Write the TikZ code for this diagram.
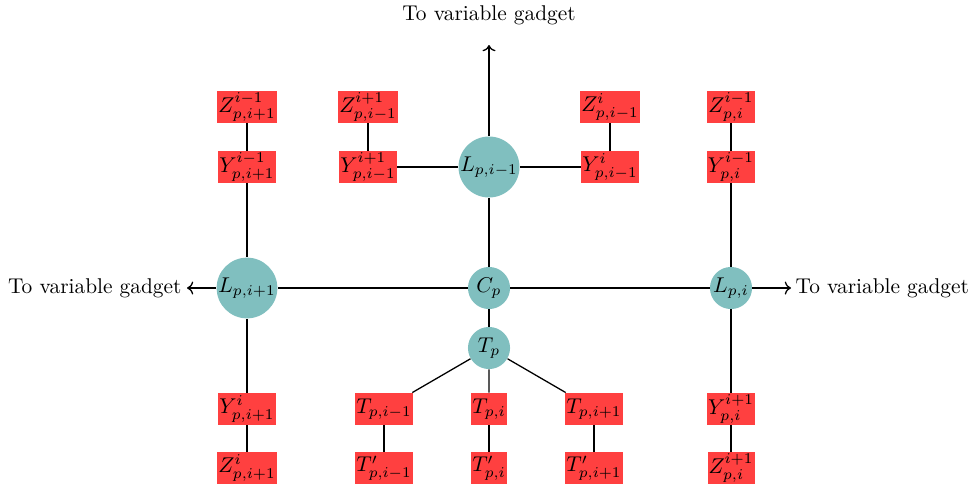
\documentclass[tikz,border=0pt]{standalone}
\usetikzlibrary{arrows.meta}
\begin{document}
\begin{tikzpicture}[x=0.468pt,y=-0.468pt,
  rbox/.style={fill=red!75,inner sep=0.5pt,minimum height=15pt},
  bigc/.style={circle,fill=teal!50,inner sep=0pt,minimum size=28pt},
  smallc/.style={circle,fill=teal!50,inner sep=0pt,minimum size=19.7pt},
  lnk/.style={semithick},
  arr/.style={semithick,->},
  lbl/.style={inner sep=1pt}]
\useasboundingbox (0,0) rectangle (974,489);
% circles
\node[bigc] (Lim) at (489,167) {$L_{p,i-1}$};
\node[smallc] (C) at (489,288) {$C_p$};
\node[smallc] (T) at (489,348) {$T_p$};
\node[bigc] (Lip) at (247,288) {$L_{p,i+1}$};
\node[smallc] (Li) at (731,288) {$L_{p,i}$};
% top boxes
\node[rbox] (Z1) at (247,107) {$Z^{i-1}_{p,i+1}$};
\node[rbox] (Y1) at (247,167) {$Y^{i-1}_{p,i+1}$};
\node[rbox] (Z2) at (368,107) {$Z^{i+1}_{p,i-1}$};
\node[rbox] (Y2) at (368,167) {$Y^{i+1}_{p,i-1}$};
\node[rbox] (Z3) at (610,107) {$Z^{i}_{p,i-1}$};
\node[rbox] (Y3) at (610,167) {$Y^{i}_{p,i-1}$};
\node[rbox] (Z4) at (731,107) {$Z^{i-1}_{p,i}$};
\node[rbox] (Y4) at (731,167) {$Y^{i-1}_{p,i}$};
% bottom boxes
\node[rbox] (Y5) at (247,409) {$Y^{i}_{p,i+1}$};
\node[rbox] (Z5) at (247,468) {$Z^{i}_{p,i+1}$};
\node[rbox] (Ta) at (384,409) {$T_{p,i-1}$};
\node[rbox] (Tpa) at (384,468) {$T'_{p,i-1}$};
\node[rbox] (Tb) at (489,409) {$T_{p,i}$};
\node[rbox] (Tpb) at (489,468) {$T'_{p,i}$};
\node[rbox] (Tc) at (594,409) {$T_{p,i+1}$};
\node[rbox] (Tpc) at (594,468) {$T'_{p,i+1}$};
\node[rbox] (Y6) at (731,409) {$Y^{i+1}_{p,i}$};
\node[rbox] (Z6) at (731,468) {$Z^{i+1}_{p,i}$};
% labels
\node[lbl] (top) at (489,15) {To variable gadget};
\node[lbl,anchor=east] (left) at (184,288) {To variable gadget};
\node[lbl,anchor=west] (right) at (793,288) {To variable gadget};
\coordinate (topa) at (489,45);
\coordinate (lefta) at (187,288);
\coordinate (righta) at (791,288);
% links
\draw[lnk] (Z1) -- (Y1) (Y1) -- (Lip) (Lip) -- (Y5) (Y5) -- (Z5);
\draw[lnk] (Z2) -- (Y2) (Y2) -- (Lim) (Lim) -- (Y3) (Y3) -- (Z3);
\draw[lnk] (Z4) -- (Y4) (Y4) -- (Li) (Li) -- (Y6) (Y6) -- (Z6);
\draw[lnk] (Lim) -- (C) (C) -- (Lip) (C) -- (Li) (C) -- (T);
\draw[lnk] (T) -- (Ta) (T) -- (Tb) (T) -- (Tc);
\draw[lnk] (Ta) -- (Tpa) (Tb) -- (Tpb) (Tc) -- (Tpc);
\draw[arr] (Lim) -- (topa);
\draw[arr] (Lip) -- (lefta);
\draw[arr] (Li) -- (righta);
\end{tikzpicture}
\end{document}
